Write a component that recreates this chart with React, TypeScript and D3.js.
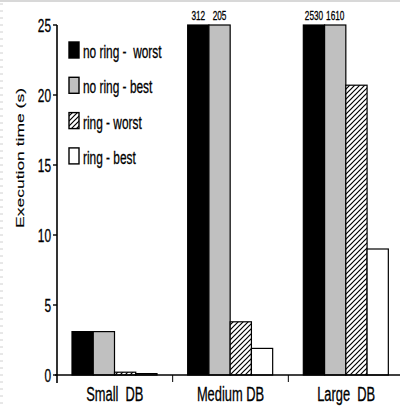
import React from "react";
import * as d3 from "d3";

const categories = ["Small  DB", "Medium DB", "Large  DB"];
const seriesNames = ["no ring -  worst", "no ring - best", "ring - worst", "ring - best"];
const noRingWorst = [3.1, 312, 2530];
const noRingBest = [3.1, 205, 1610];
const ringWorst = [0.2, 3.8, 20.7];
const ringBest = [0.1, 1.9, 9.0];
const yTicks = [0, 5, 10, 15, 20, 25];
const yLabel = "Execution time (s)";

const seriesValues = [noRingWorst, noRingBest, ringWorst, ringBest];
const fills = ["#000000", "#c0c0c0", "url(#hatch)", "#ffffff"];

const W = 400, H = 408;
const FONT = "'Liberation Sans', Arial, sans-serif";
const SX = 0.66;

export default function App() {
  const x = d3.scaleBand<string>().domain(categories).range([57, 404]).paddingInner(0).paddingOuter(0);
  const xs = d3.scaleBand<string>().domain(seriesNames).range([15, 100]);
  const y = d3.scaleLinear().domain([0, 25]).range([375, 25]);
  const yMax = 25;

  const T = (px: number, py: number, size: number, anchor: string, txt: string, key?: any) => (
    <g key={key} transform={`translate(${px},${py}) scale(${SX},1)`}>
      <text x={0} y={0} fontSize={size} textAnchor={anchor} fontFamily={FONT} fill="#000" stroke="#000" strokeWidth={0.3} style={{ whiteSpace: "pre" }}>{txt}</text>
    </g>
  );

  const dashes = d3.range(4, H, 7);

  return (
    <svg width={W} height={H} style={{ position: "absolute", left: 0, top: 0, background: "#fff" }}>
      <defs>
        <pattern id="hatch" patternUnits="userSpaceOnUse" width={5} height={5}>
          <rect width={5} height={5} fill="#fff" />
          <path d="M-1,1 L1,-1 M0,5 L5,0 M4,6 L6,4" stroke="#000" strokeWidth={1.2} />
        </pattern>
      </defs>
      <rect x={0} y={0} width={W} height={H} fill="#fff" />
      <line x1={0} x2={W} y1={1} y2={1} stroke="#d8d8d8" strokeWidth={2} />
      {dashes.map((d, i) => (
        <line key={i} x1={0} x2={3} y1={d} y2={d} stroke="#d0d0d0" strokeWidth={1} />
      ))}

      {/* bars */}
      {categories.map((c, ci) => (
        <g key={c}>
          {seriesNames.map((s, si) => {
            const v = seriesValues[si][ci];
            const vv = Math.min(v, yMax);
            const bx = (x(c) as number) + (xs(s) as number);
            const bw = xs.bandwidth();
            const top = y(vv);
            return (
              <g key={s}>
                <rect x={bx} y={top} width={bw} height={y(0) - top} fill={fills[si]} stroke="#000" strokeWidth={1.2} />
                {v > yMax ? T(bx + bw / 2, 20, 12.5, "middle", String(v)) : null}
              </g>
            );
          })}
        </g>
      ))}

      {/* y axis */}
      <line x1={57} x2={57} y1={y(25)} y2={383} stroke="#000" strokeWidth={1.6} />
      {yTicks.map((t) => (
        <g key={t}>
          <line x1={53} x2={57} y1={y(t)} y2={y(t)} stroke="#000" strokeWidth={1.4} />
          {T(51, y(t) + 6.5, 18, "end", String(t))}
        </g>
      ))}
      {/* x axis */}
      <line x1={55} x2={W} y1={y(0)} y2={y(0)} stroke="#000" strokeWidth={1.6} />
      {categories.map((c) => (
        <line key={c} x1={(x(c) as number) + x.bandwidth()} x2={(x(c) as number) + x.bandwidth()} y1={y(0)} y2={382} stroke="#000" strokeWidth={1} />
      ))}
      {categories.map((c) => T((x(c) as number) + x.bandwidth() / 2, 401, 19.5, "middle", c, c))}

      {/* y label */}
      <g transform={`translate(24,158) scale(${SX},1) rotate(-90)`}>
        <text x={0} y={0} fontSize={17.5} textAnchor="middle" fontFamily={FONT} fill="#000" stroke="#000" strokeWidth={0.2}>{yLabel}</text>
      </g>

      {/* legend */}
      {seriesNames.map((s, i) => {
        const base = 58 + i * 35.3;
        return (
          <g key={s}>
            <rect x={69} y={base - 16} width={10} height={16} fill={fills[i]} stroke="#000" strokeWidth={1.4} />
            {T(83, base, 18, "start", s)}
          </g>
        );
      })}
    </svg>
  );
}
